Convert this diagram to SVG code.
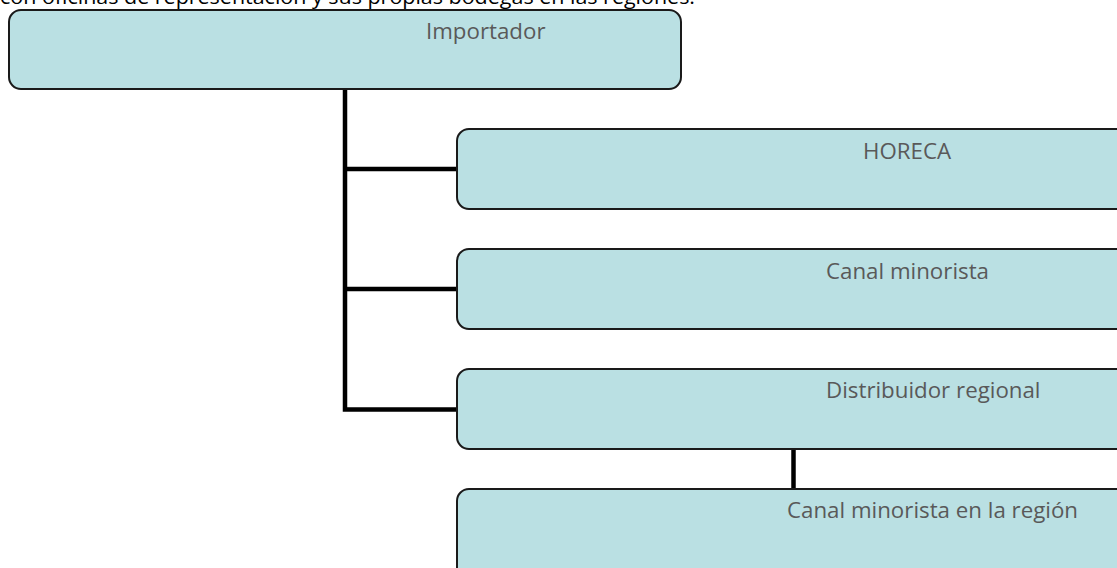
<svg xmlns="http://www.w3.org/2000/svg" width="1117" height="568" viewBox="0 0 1117 568">
<style>
.box{fill:#BAE0E3;stroke:#1a1a1a;stroke-width:2}
.lbl{font-family:"Open Sans","Liberation Sans",sans-serif;font-size:22.3px;fill:#595959}
.conn{stroke:#000;stroke-width:4.5;fill:none}
.cap{font-family:"Open Sans","Liberation Sans",sans-serif;font-size:20px;fill:#000}
</style>
<rect width="1117" height="568" fill="#fff"/>
<text class="cap" x="0" y="4" textLength="695" lengthAdjust="spacingAndGlyphs">con oficinas de representación y sus propias bodegas en las regiones.</text>
<g id="connectors">
<path class="conn" d="M345 89 V409.5 H457"/>
<path class="conn" d="M345 169 H457"/>
<path class="conn" d="M345 289 H457"/>
<path class="conn" d="M793.5 449 V489"/>
</g>
<g id="importador">
<rect class="box" x="9" y="10" width="672" height="79" rx="12"/>
<text class="lbl" x="426" y="39">Importador</text>
</g>
<g id="horeca">
<rect class="box" x="457" y="129" width="700" height="80" rx="12"/>
<text class="lbl" x="863" y="159">HORECA</text>
</g>
<g id="canal-minorista">
<rect class="box" x="457" y="249" width="700" height="80" rx="12"/>
<text class="lbl" x="826" y="279">Canal minorista</text>
</g>
<g id="distribuidor">
<rect class="box" x="457" y="369" width="700" height="80" rx="12"/>
<text class="lbl" x="826" y="398">Distribuidor regional</text>
</g>
<g id="canal-region">
<rect class="box" x="457" y="489" width="700" height="100" rx="12"/>
<text class="lbl" x="787" y="518">Canal minorista en la región</text>
</g>
</svg>
